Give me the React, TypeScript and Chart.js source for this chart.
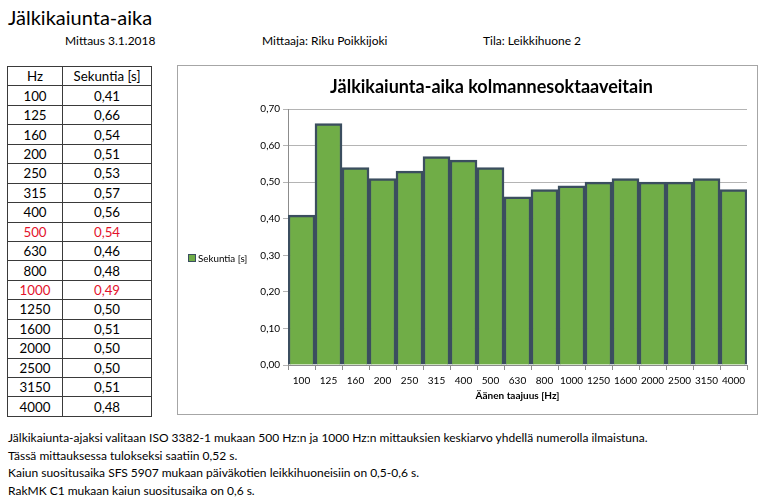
import React, { useEffect, useRef } from "react";
import { Chart, registerables } from "chart.js";

Chart.register(...registerables);

const frequencies = ["100", "125", "160", "200", "250", "315", "400", "500", "630", "800", "1000", "1250", "1600", "2000", "2500", "3150", "4000"];
const seconds = [0.41, 0.66, 0.54, 0.51, 0.53, 0.57, 0.56, 0.54, 0.46, 0.48, 0.49, 0.50, 0.51, 0.50, 0.50, 0.51, 0.48];
const highlighted = ["500", "1000"];
const seriesLabel = "Sekuntia [s]";
const chartTitle = "Jälkikaiunta-aika kolmannesoktaaveitain";
const xTitle = "Äänen taajuus [Hz]";
const notes = [
  "Jälkikaiunta-ajaksi valitaan ISO 3382-1 mukaan 500 Hz:n ja 1000 Hz:n mittauksien keskiarvo yhdellä numerolla ilmaistuna.",
  "Tässä mittauksessa tulokseksi saatiin 0,52 s.",
  "Kaiun suositusaika SFS 5907 mukaan päiväkotien leikkihuoneisiin on 0,5-0,6 s.",
  "RakMK C1 mukaan kaiun suositusaika on 0,6 s.",
];

const FONT = "Lato, 'Liberation Sans', sans-serif";
const GREEN = "#70AD47";
const EDGE = "#3B4E5F";

const fmt = (v: number) => v.toFixed(2).replace(".", ",");

function BarChart() {
  const ref = useRef<HTMLCanvasElement | null>(null);
  useEffect(() => {
    if (!ref.current) return;
    const chart = new Chart(ref.current, {
      type: "bar",
      data: {
        labels: frequencies,
        datasets: [
          {
            label: seriesLabel,
            data: seconds,
            backgroundColor: GREEN,
            borderColor: EDGE,
            borderWidth: 2.5,
            categoryPercentage: 1,
            barPercentage: 1,
          },
        ],
      },
      options: {
        animation: false,
        responsive: false,
        devicePixelRatio: 1,
        layout: { padding: { left: 58, right: 10, top: 0, bottom: 12 } },
        plugins: {
          legend: { display: false },
          tooltip: { enabled: false },
          title: {
            display: true,
            text: chartTitle,
            color: "#000",
            font: { family: FONT, size: 18, weight: "bold", lineHeight: 1.2 },
            padding: { top: 10.2, bottom: 11.2 },
          },
        },
        scales: {
          x: {
            afterFit: (s: any) => {
              s.height = 37;
            },
            grid: {
              offset: true,
              drawOnChartArea: false,
              drawTicks: true,
              tickLength: 5,
              color: "#8c8c8c",
            },
            border: { color: "#8c8c8c", width: 1 },
            ticks: {
              color: "#000",
              font: { family: FONT, size: 10 },
              padding: 5,
              maxRotation: 0,
              autoSkip: false,
            },
            title: {
              display: true,
              text: xTitle,
              color: "#000",
              font: { family: FONT, size: 10, weight: "bold", lineHeight: 1.2 },
              padding: { top: 2, bottom: 0 },
            },
          },
          y: {
            min: 0,
            max: 0.7,
            afterFit: (s: any) => {
              s.width = 52;
            },
            grid: {
              color: "#b4b4b4",
              drawTicks: true,
              tickLength: 5,
            },
            border: { color: "#8c8c8c", width: 1 },
            ticks: {
              stepSize: 0.1,
              color: "#000",
              font: { family: FONT, size: 10 },
              padding: 3,
              callback: (v: any) => fmt(Number(v)),
            },
          },
        },
      },
    });
    return () => chart.destroy();
  }, []);
  return <canvas ref={ref} width={579} height={348} style={{ display: "block", width: 579, height: 348 }} />;
}

const abs = (left: number, top: number, extra: React.CSSProperties = {}): React.CSSProperties => ({
  position: "absolute",
  left,
  top,
  whiteSpace: "nowrap",
  ...extra,
});

export default function App() {
  const rowH = 350 / 18;
  return (
    <div style={{ position: "absolute", left: 0, top: 0, width: 769, height: 502, background: "#fff", fontFamily: FONT, color: "#000", overflow: "hidden" }}>
      <div style={abs(8, 4, { fontSize: 20, lineHeight: "26px" })}>Jälkikaiunta-aika</div>
      <div style={abs(65, 33, { fontSize: 12, lineHeight: "16px" })}>Mittaus 3.1.2018</div>
      <div style={abs(262, 33, { fontSize: 12, lineHeight: "16px" })}>Mittaaja: Riku Poikkijoki</div>
      <div style={abs(483, 33, { fontSize: 12, lineHeight: "16px" })}>Tila: Leikkihuone 2</div>

      <table
        style={{
          position: "absolute",
          left: 7,
          top: 66,
          width: 144,
          height: 351,
          borderCollapse: "collapse",
          tableLayout: "fixed",
          fontSize: 13.3,
          fontFamily: FONT,
        }}
      >
        <colgroup>
          <col style={{ width: 55 }} />
          <col style={{ width: 89 }} />
        </colgroup>
        <tbody>
          <tr style={{ height: rowH }}>
            <td style={cell("#000")}>Hz</td>
            <td style={cell("#000")}>{seriesLabel}</td>
          </tr>
          {frequencies.map((f, i) => {
            const c = highlighted.includes(f) ? "#E3122B" : "#000";
            return (
              <tr key={f} style={{ height: rowH }}>
                <td style={cell(c)}>{f}</td>
                <td style={cell(c)}>{fmt(seconds[i])}</td>
              </tr>
            );
          })}
        </tbody>
      </table>

      <div style={{ position: "absolute", left: 177, top: 65, width: 579, height: 348, border: "1px solid #a6a6a6" }}>
        <BarChart />
        <div style={abs(10, 186, { fontSize: 9.8, lineHeight: "12px", display: "flex", alignItems: "center" })}>
          <span style={{ display: "inline-block", width: 6, height: 6, background: GREEN, border: `1px solid ${EDGE}`, marginRight: 2 }} />
          <span>{seriesLabel}</span>
        </div>
      </div>

      {notes.map((n, i) => (
        <div key={i} style={abs(8, 430 + i * 17.7, { fontSize: 12, lineHeight: "16px" })}>
          {n}
        </div>
      ))}
    </div>
  );
}

function cell(color: string): React.CSSProperties {
  return {
    border: "1px solid #3a3a3a",
    textAlign: "center",
    padding: 0,
    color,
    lineHeight: "14px",
  };
}
